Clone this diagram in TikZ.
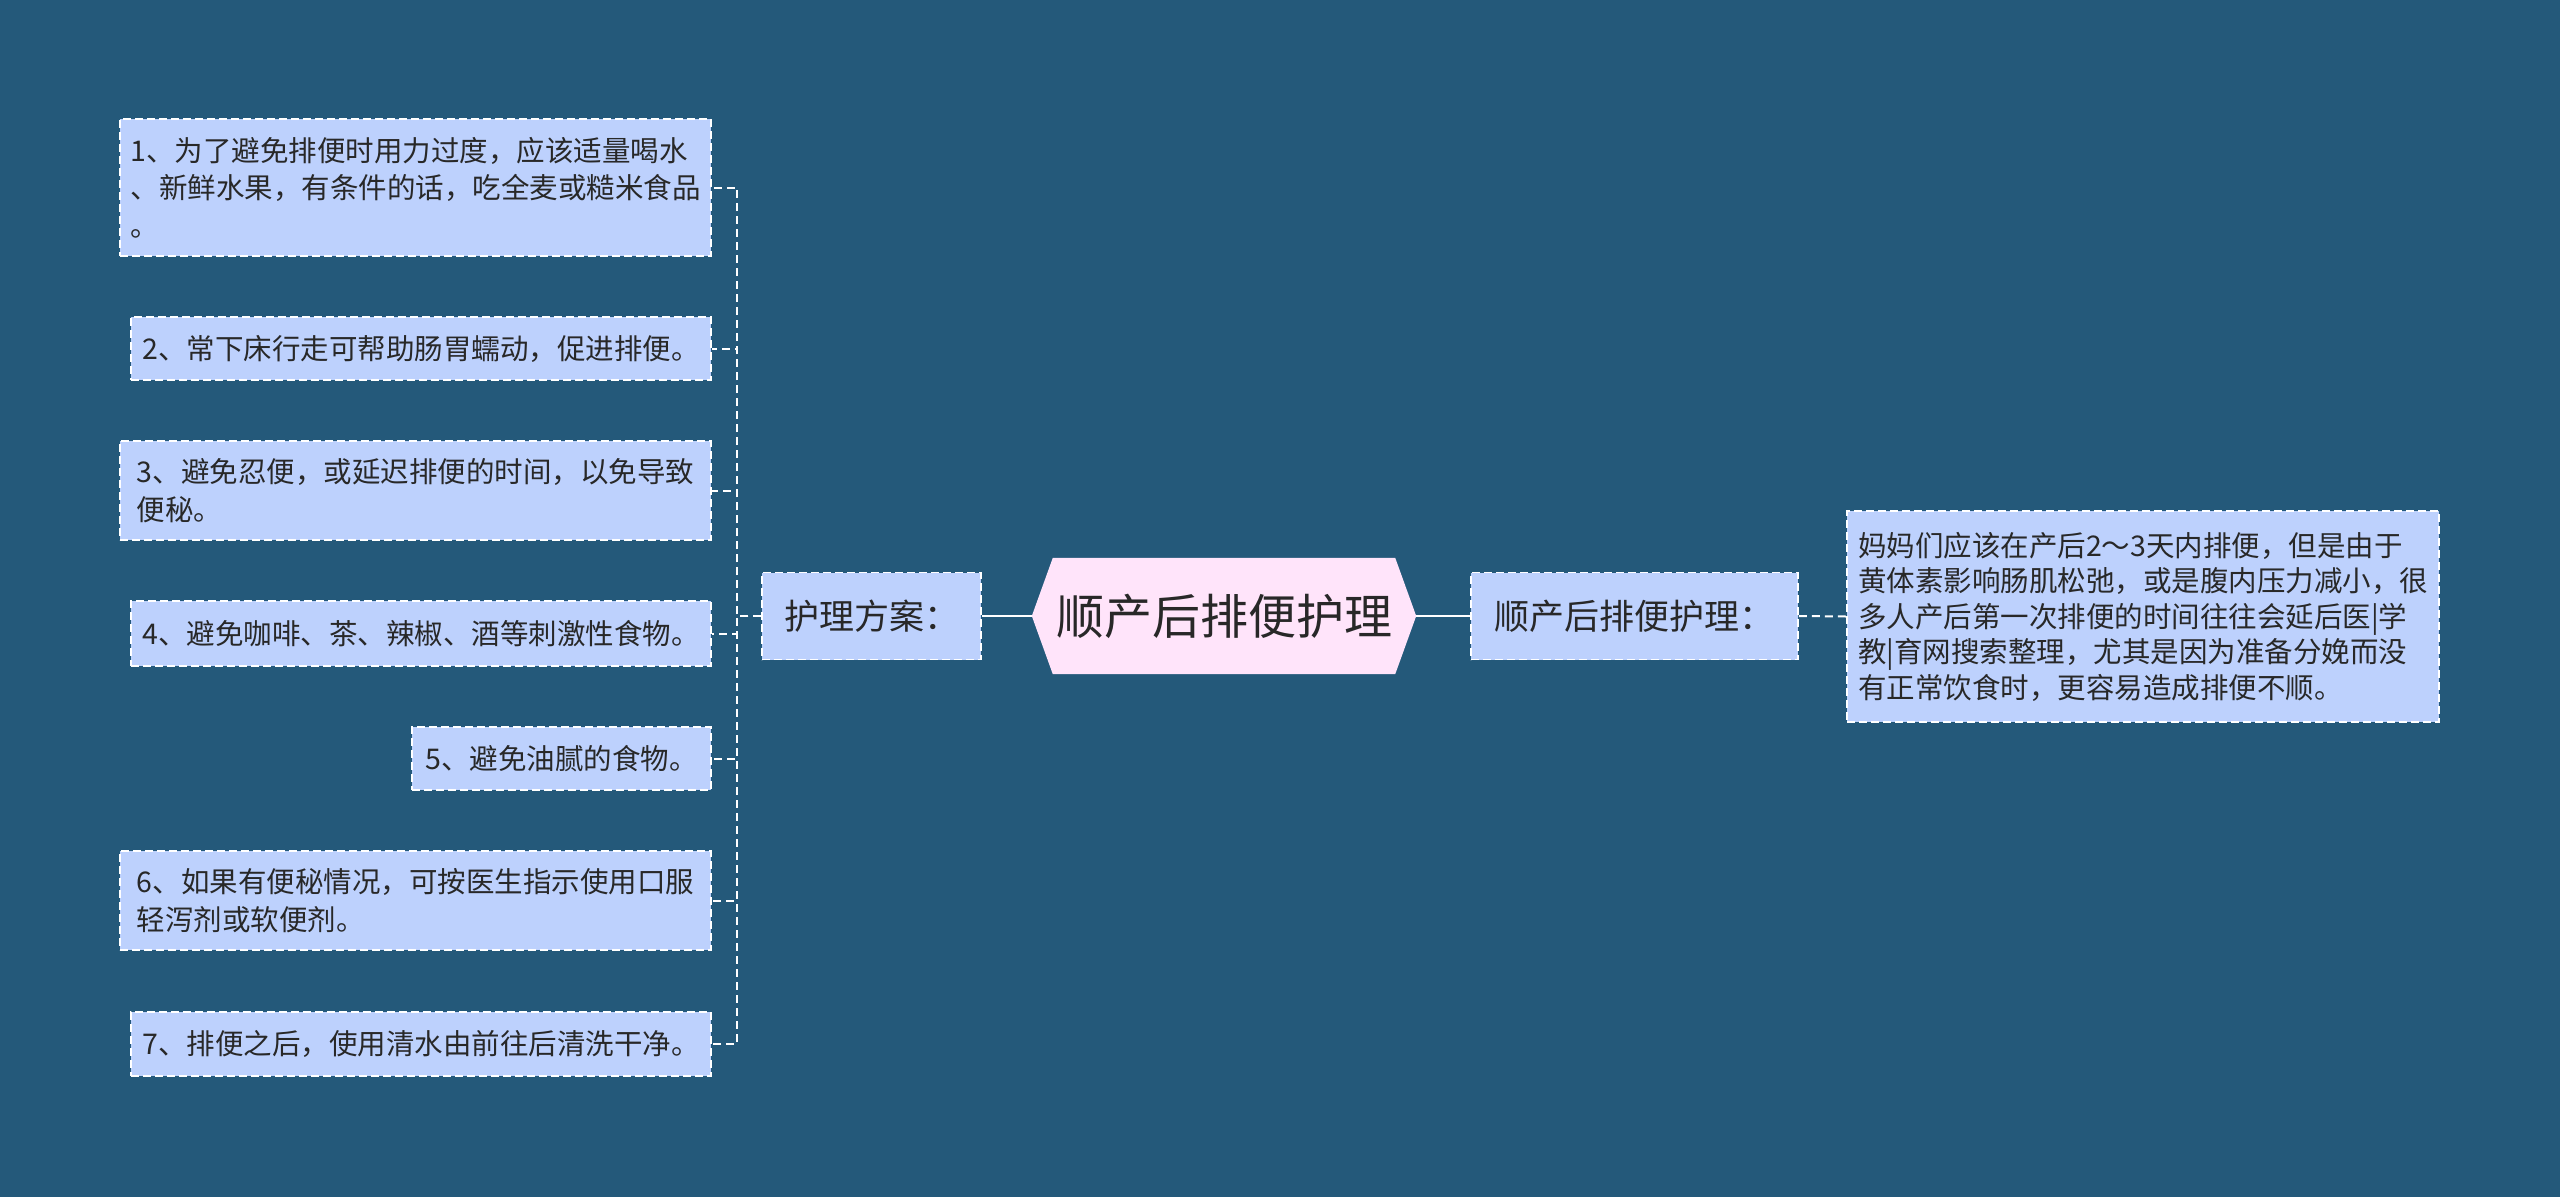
\documentclass[tikz,border=0pt]{standalone}
\usepackage{fontspec}
\newfontfamily\cjk{Noto Sans CJK SC}
\usetikzlibrary{backgrounds}
\definecolor{bgc}{RGB}{36,89,122}
\definecolor{boxc}{RGB}{189,209,253}
\definecolor{hexc}{RGB}{255,228,250}
\definecolor{txtc}{RGB}{40,40,40}
\tikzset{
  leaf/.style={draw=white, line width=1.8pt, dash pattern=on 8pt off 4pt, fill=boxc,
    text=txtc, font=\cjk\fontsize{28.5}{37.5}\selectfont, align=left,
    inner xsep=10pt, inner ysep=0pt, anchor=east},
  midbox/.style={draw=white, line width=1.8pt, dash pattern=on 8pt off 4pt, fill=boxc,
    text=txtc, font=\cjk\fontsize{35}{42}\selectfont, inner sep=0pt},
  rtext/.style={draw=white, line width=1.8pt, dash pattern=on 8pt off 4pt, fill=boxc,
    text=txtc, font=\cjk\fontsize{28.5}{35.5}\selectfont, align=left, inner sep=0pt},
  titlenode/.style={text=txtc, font=\cjk\fontsize{48}{56}\selectfont, inner sep=0pt,
    minimum width=384pt, minimum height=116pt},
  conn/.style={draw=white, line width=2.5pt},
  dconn/.style={draw=white, line width=2pt, dash pattern=on 8pt off 5pt}
}
\begin{document}
\begin{tikzpicture}[x=1pt,y=-1pt]
\useasboundingbox (0,0) rectangle (2560,1197);
\begin{pgfonlayer}{background}
\fill[bgc] (0,0) rectangle (2560,1197);
\end{pgfonlayer}
% title
\node[titlenode] (t) at (1224,616) {顺产后排便护理};
\begin{pgfonlayer}{background}
\fill[hexc] (t.west) -- ([xshift=21pt]t.north west) -- ([xshift=-21pt]t.north east)
  -- (t.east) -- ([xshift=-21pt]t.south east) -- ([xshift=21pt]t.south west) -- cycle;
\end{pgfonlayer}
% level 1
\node[midbox, minimum width=219pt, minimum height=87pt] (p) at (871.5,616) {护理方案：};
\node[midbox, minimum width=327pt, minimum height=87pt] (q) at (1634.5,616) {顺产后排便护理：};
\node[rtext, minimum width=592pt, minimum height=211pt] (r) at (2143,616.5)
  {妈妈们应该在产后2～3天内排便，但是由于\\黄体素影响肠肌松弛，或是腹内压力减小，很\\多人产后第一次排便的时间往往会延后医|学\\教|育网搜索整理，尤其是因为准备分娩而没\\有正常饮食时，更容易造成排便不顺。};
% leaves
\node[leaf, minimum width=591pt, minimum height=137pt] (c1) at (712,187.5)
  {1、为了避免排便时用力过度，应该适量喝水\\、新鲜水果，有条件的话，吃全麦或糙米食品\\。};
\node[leaf, minimum width=580pt, minimum height=63pt] (c2) at (712,348.5)
  {2、常下床行走可帮助肠胃蠕动，促进排便。};
\node[leaf, minimum width=591pt, minimum height=99pt] (c3) at (712,490.5)
  {3、避免忍便，或延迟排便的时间，以免导致\\便秘。};
\node[leaf, minimum width=580pt, minimum height=65pt] (c4) at (712,633.5)
  {4、避免咖啡、茶、辣椒、酒等刺激性食物。};
\node[leaf, minimum width=299pt, minimum height=63pt] (c5) at (712,758.5)
  {5、避免油腻的食物。};
\node[leaf, minimum width=591pt, minimum height=99pt] (c6) at (712,900.5)
  {6、如果有便秘情况，可按医生指示使用口服\\轻泻剂或软便剂。};
\node[leaf, minimum width=580pt, minimum height=64pt] (c7) at (712,1044)
  {7、排便之后，使用清水由前往后清洗干净。};
% connectors
\draw[conn] (t.west) -- (p.east);
\draw[conn] (t.east) -- (q.west);
\draw[dconn] (q.east) -- (r.west);
\foreach \c in {c1,c2,c3,c4,c5,c6,c7}
  \draw[dconn] (p.west) -- ++(-24,0) |- (\c.east);
\end{tikzpicture}
\end{document}
